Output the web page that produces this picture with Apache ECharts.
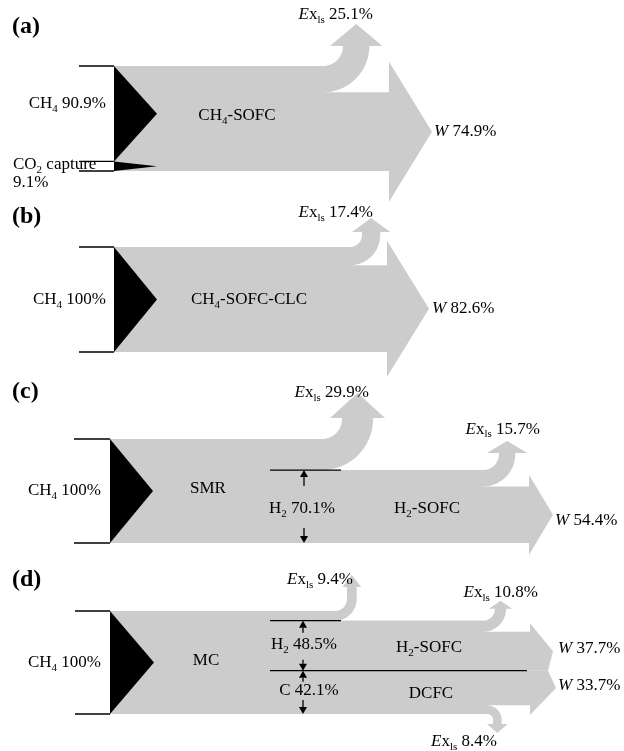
<!DOCTYPE html>
<html><head><meta charset="utf-8">
<script src="https://cdn.jsdelivr.net/npm/echarts/dist/echarts.min.js"></script>
<style>html,body{margin:0;padding:0;background:#fff}#c{width:624px;height:751px}</style>
</head><body><div id="c"></div>
<script>
// ---------------- data (percent of exergy input) ----------------
const panelLabels = ['(a)', '(b)', '(c)', '(d)'];
const processNames = ['CH4-SOFC', 'CH4-SOFC-CLC', 'SMR', 'MC'];
// (a) CH4-SOFC
const aInputNames = ['CH4', 'CO2 capture'];
const aInputs = [90.9, 9.1];
const aOutputs = [25.1, 74.9];        // Ex_ls, W
// (b) CH4-SOFC-CLC
const bInputs = [100];                // CH4
const bOutputs = [17.4, 82.6];        // Ex_ls, W
// (c) SMR + H2-SOFC
const cInputs = [100];                // CH4
const cStage1 = [29.9, 70.1];         // Ex_ls, H2
const cStage2Name = 'H2-SOFC';
const cStage2 = [15.7, 54.4];         // Ex_ls, W
// (d) MC + H2-SOFC + DCFC
const dInputs = [100];                // CH4
const dStage1 = [9.4, 48.5, 42.1];    // Ex_ls, H2, C
const dH2Name = 'H2-SOFC';
const dH2SOFC = [10.8, 37.7];         // Ex_ls, W
const dCName = 'DCFC';
const dDCFC = [33.7, 8.4];            // W, Ex_ls

// ---------------- styles / helpers ----------------
const SERIF = '"Liberation Serif", "Times New Roman", serif';
const GRAY = '#cccccc';
const RICH = {
  n: { fontFamily: SERIF, fontSize: 17, lineHeight: 22, fill: '#000' },
  i: { fontFamily: SERIF, fontSize: 17, fontStyle: 'italic', lineHeight: 22, fill: '#000' },
  s: { fontFamily: SERIF, fontSize: 11, lineHeight: 11, verticalAlign: 'bottom', fill: '#000' },
  b: { fontFamily: SERIF, fontSize: 24, fontWeight: 'bold', lineHeight: 26, fill: '#000' }
};
function chem(str) { return '{n|' + str.replace(/([A-Za-z])(\d+)/g, '$1}{s|$2}{n|') + '}'; }
function exLabel(v) { return '{i|E}{n|x}{s|ls}{n| ' + v + '%}'; }
function wLabel(v) { return '{i|W}{n| ' + v + '%}'; }
function txt(x, y, text, align) {
  return { type: 'text', silent: true, style: { x: x, y: y, text: text, rich: RICH, align: align || 'left', verticalAlign: 'middle', font: '17px ' + SERIF, fill: '#000' } };
}
function poly(points, fill) { return { type: 'polygon', silent: true, shape: { points: points }, style: { fill: fill || GRAY } }; }
function seg(x1, y1, x2, y2) { return { type: 'line', silent: true, shape: { x1: x1, y1: y1, x2: x2, y2: y2 }, style: { stroke: '#000', lineWidth: 1.3 } }; }
function rectPts(x1, x2, y1, y2) { return [[x1, y1], [x2, y1], [x2, y2], [x1, y2]]; }
function headPts(xb, xt, yc, half) { return [[xb, yc - half], [xt, yc], [xb, yc + half]]; }
function dimArrow(x, yFrom, yTo) {
  const d = yTo > yFrom ? 1 : -1, hl = 7, hw = 4;
  return [seg(x, yFrom, x, yTo - d * hl), poly([[x - hw, yTo - d * hl], [x, yTo], [x + hw, yTo - d * hl]], '#000')];
}
const N = 18;
// band between yT (top) and yB (bottom) running right, turning upward
function upBranch(xL, cx, r, yT, yB, ext, oh, hl) {
  const cy = yT - r, R = r + (yB - yT);
  const pts = [[xL, yT]];
  for (let k = 0; k <= N; k++) { const a = k / N * Math.PI / 2; pts.push([cx + r * Math.sin(a), cy + r * Math.cos(a)]); }
  const xi = cx + r, xo = cx + R, yh = cy - ext;
  pts.push([xi, yh], [xi - oh, yh], [(xi + xo) / 2, yh - hl], [xo + oh, yh], [xo, yh]);
  for (let k = N; k >= 0; k--) { const a = k / N * Math.PI / 2; pts.push([cx + R * Math.sin(a), cy + R * Math.cos(a)]); }
  pts.push([xL, yB]);
  return pts;
}
// band between yT and yB running right, turning downward
function downBranch(xL, cx, r, yT, yB, ext, oh, hl) {
  const cy = yB + r, R = r + (yB - yT);
  const pts = [[xL, yB]];
  for (let k = 0; k <= N; k++) { const a = k / N * Math.PI / 2; pts.push([cx + r * Math.sin(a), cy - r * Math.cos(a)]); }
  const xi = cx + r, xo = cx + R, yh = cy + ext;
  pts.push([xi, yh], [xi - oh, yh], [(xi + xo) / 2, yh + hl], [xo + oh, yh], [xo, yh]);
  for (let k = N; k >= 0; k--) { const a = k / N * Math.PI / 2; pts.push([cx + R * Math.sin(a), cy - R * Math.cos(a)]); }
  pts.push([xL, yT]);
  return pts;
}

// ---------------- panel renderers ----------------
function renderA(params, api) {
  const Y = v => api.coord([0, v])[1];
  const x0 = 114, xl = 79, tri = 43;
  const ch4 = aInputs[0], co2 = aInputs[1], loss = aOutputs[0], work = aOutputs[1];
  const top = Y(100), bot = Y(0), yIn = Y(co2), yW = Y(work);
  const c = [];
  c.push(poly(rectPts(x0, 323, top, bot)));
  c.push(poly(rectPts(x0, 389, yW, bot)));
  c.push(poly(headPts(389, 432, Y(work / 2), 70)));
  c.push(poly(upBranch(x0, 323, 20, top, yW, 0, 13, 22)));
  c.push(poly([[x0, top], [x0 + tri, Y(co2 + ch4 / 2)], [x0, yIn]], '#000'));
  c.push(poly([[x0, yIn], [x0 + tri, Y(co2 / 2)], [x0, bot]], '#000'));
  c.push(seg(xl, top, x0, top), seg(xl, yIn, x0, yIn), seg(xl, bot, x0, bot));
  c.push(txt(12, top - 39, '{b|' + panelLabels[0] + '}'));
  c.push(txt(373, top - 51, exLabel(loss), 'right'));
  c.push(txt(106, top + 38, chem(aInputNames[0] + ' ' + ch4 + '%'), 'right'));
  c.push(txt(237, top + 50, chem(processNames[0]), 'center'));
  c.push(txt(13, Y(co2 / 2) - 2, chem(aInputNames[1])));
  c.push(txt(13, Y(co2 / 2) + 16, chem(co2 + '%')));
  c.push(txt(434, Y(work / 2), wLabel(work)));
  return { type: 'group', children: c };
}
function renderB(params, api) {
  const Y = v => api.coord([0, v])[1];
  const x0 = 114, xl = 79, tri = 43;
  const loss = bOutputs[0], work = bOutputs[1];
  const top = Y(100), bot = Y(0), yW = Y(work);
  const c = [];
  c.push(poly(rectPts(x0, 350, top, bot)));
  c.push(poly(rectPts(x0, 387, yW, bot)));
  c.push(poly(headPts(387, 429, Y(work / 2), 68)));
  c.push(poly(upBranch(x0, 350, 12, top, yW, 3, 10, 14)));
  c.push(poly([[x0, top], [x0 + tri, Y(bInputs[0] / 2)], [x0, bot]], '#000'));
  c.push(seg(xl, top, x0, top), seg(xl, bot, x0, bot));
  c.push(txt(12, top - 30, '{b|' + panelLabels[1] + '}'));
  c.push(txt(373, top - 34, exLabel(loss), 'right'));
  c.push(txt(106, Y(50), chem('CH4 ' + bInputs[0] + '%'), 'right'));
  c.push(txt(249, Y(50), chem(processNames[1]), 'center'));
  c.push(txt(432, Y(work / 2), wLabel(work)));
  return { type: 'group', children: c };
}
function renderC(params, api) {
  const Y = v => api.coord([0, v])[1];
  const x0 = 110, xl = 74, tri = 43;
  const loss1 = cStage1[0], h2 = cStage1[1], loss2 = cStage2[0], work = cStage2[1];
  const top = Y(100), bot = Y(0), yH = Y(h2), yW = Y(work);
  const c = [];
  c.push(poly(rectPts(x0, 322, top, bot)));
  c.push(poly(rectPts(x0, 483, yH, bot)));
  c.push(poly(rectPts(x0, 529, yW, bot)));
  c.push(poly(headPts(529, 553, Y(work / 2), 40)));
  c.push(poly(upBranch(x0, 322, 20, top, yH, 1, 12, 25)));
  c.push(poly(upBranch(x0, 483, 16, yH, yW, 1, 12, 12)));
  c.push(poly([[x0, top], [x0 + tri, Y(cInputs[0] / 2)], [x0, bot]], '#000'));
  c.push(seg(xl, top, x0, top), seg(xl, bot, x0, bot));
  c.push(seg(270, yH, 341, yH));
  c.push(...dimArrow(304, yH + 16, yH), ...dimArrow(304, bot - 15, bot));
  c.push(txt(12, top - 47, '{b|' + panelLabels[2] + '}'));
  c.push(txt(369, top - 46, exLabel(loss1), 'right'));
  c.push(txt(101, Y(50), chem('CH4 ' + cInputs[0] + '%'), 'right'));
  c.push(txt(208, Y(50) - 2, chem(processNames[2]), 'center'));
  c.push(txt(302, Y(h2 / 2) + 2, chem('H2 ' + h2 + '%'), 'center'));
  c.push(txt(540, yH - 41, exLabel(loss2), 'right'));
  c.push(txt(427, Y(h2 / 2) + 2, chem(cStage2Name), 'center'));
  c.push(txt(555, Y(work / 2) + 6, wLabel(work)));
  return { type: 'group', children: c };
}
function renderD(params, api) {
  const Y = v => api.coord([0, v])[1];
  const x0 = 110, xl = 75, tri = 44;
  const loss1 = dStage1[0], h2 = dStage1[1], cc = dStage1[2];
  const loss2 = dH2SOFC[0], w1 = dH2SOFC[1], w2 = dDCFC[0], loss3 = dDCFC[1];
  const top = Y(100), bot = Y(0);
  const yH = Y(cc + h2), yMid = Y(cc), yW1 = Y(cc + w1), yL3 = Y(loss3);
  const c = [];
  c.push(poly(rectPts(x0, 335, top, bot)));
  c.push(poly(rectPts(x0, 483, yH, yMid)));
  c.push(poly(rectPts(x0, 530, yW1, yMid)));
  c.push(poly(rectPts(x0, 487, yMid, bot)));
  c.push(poly(rectPts(x0, 530, yMid, yL3)));
  const yc1 = Y(cc + w1 / 2), yc2 = Y(loss3 + w2 / 2);
  c.push(poly([[530, yc1 - 28], [553, yc1], [548, yMid], [530, yMid]]));
  c.push(poly([[530, yMid], [548, yMid], [556, yc2], [530, yc2 + 27]]));
  c.push(poly(upBranch(x0, 335, 12, top, yH, 12, 4.5, 12)));
  c.push(poly(upBranch(x0, 483, 12, yH, yW1, 0, 6, 8)));
  c.push(poly(downBranch(x0, 487, 6, yL3, bot, 4, 6, 9)));
  c.push(poly([[x0, top], [x0 + tri, Y(dInputs[0] / 2)], [x0, bot]], '#000'));
  c.push(seg(xl, top, x0, top), seg(xl, bot, x0, bot));
  c.push(seg(270, yH, 341, yH), seg(270, yMid, 527, yMid));
  c.push(...dimArrow(303, yH + 12, yH), ...dimArrow(303, yMid - 11, yMid));
  c.push(...dimArrow(303, yMid + 11, yMid), ...dimArrow(303, bot - 14, bot));
  c.push(txt(12, top - 31, '{b|' + panelLabels[3] + '}'));
  c.push(txt(353, top - 31, exLabel(loss1), 'right'));
  c.push(txt(101, Y(50), chem('CH4 ' + dInputs[0] + '%'), 'right'));
  c.push(txt(206, Y(50) - 2, chem(processNames[3]), 'center'));
  c.push(txt(304, Y(cc + h2 / 2) - 1, chem('H2 ' + h2 + '%'), 'center'));
  c.push(txt(309, Y(cc / 2) - 2, chem('C ' + cc + '%'), 'center'));
  c.push(txt(538, yH - 28, exLabel(loss2), 'right'));
  c.push(txt(429, Y(cc + h2 / 2) + 2, chem(dH2Name), 'center'));
  c.push(txt(431, Y(cc / 2) + 1, chem(dCName), 'center'));
  c.push(txt(558, yc1 - 3, wLabel(w1)));
  c.push(txt(558, yc2 - 2, wLabel(w2)));
  c.push(txt(497, bot + 28, exLabel(loss3), 'right'));
  return { type: 'group', children: c };
}

// ---------------- chart ----------------
const gridTops = [66, 247, 439, 611];
const gridHeights = [105, 105, 104, 103];
const renderers = [renderA, renderB, renderC, renderD];
const chart = echarts.init(document.getElementById('c'), null, { renderer: 'canvas' });
chart.setOption({
  animation: false,
  backgroundColor: '#ffffff',
  grid: gridTops.map((t, i) => ({ left: 0, width: 624, top: t, height: gridHeights[i] })),
  xAxis: gridTops.map((t, i) => ({ type: 'value', gridIndex: i, min: 0, max: 624, show: false })),
  yAxis: gridTops.map((t, i) => ({ type: 'value', gridIndex: i, min: 0, max: 100, show: false })),
  series: renderers.map((fn, i) => ({
    type: 'custom', xAxisIndex: i, yAxisIndex: i, clip: false, silent: true,
    data: [[0, 0]], renderItem: fn
  }))
});
</script>
</body></html>
